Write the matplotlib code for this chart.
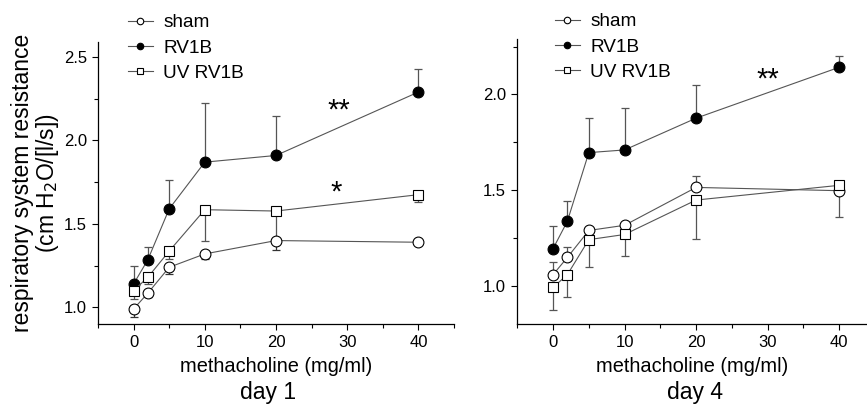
import matplotlib
matplotlib.use("Agg")
import matplotlib.pyplot as plt
from matplotlib.ticker import MultipleLocator

plt.rcParams['font.family'] = ['Liberation Sans', 'DejaVu Sans']

dose = [0, 2, 5, 10, 20, 40]

# day 1
d1_sham = [0.99, 1.085, 1.24, 1.32, 1.40, 1.39]
d1_sham_lo = [0.05, 0.025, 0.04, 0.03, 0.055, 0.0]
d1_sham_hi = [0.0, 0.0, 0.0, 0.0, 0.0, 0.0]
d1_rv = [1.14, 1.285, 1.59, 1.87, 1.91, 2.29]
d1_rv_lo = [0.0, 0.0, 0.0, 0.0, 0.0, 0.0]
d1_rv_hi = [0.105, 0.075, 0.175, 0.355, 0.235, 0.14]
d1_uv = [1.10, 1.18, 1.337, 1.585, 1.577, 1.675]
d1_uv_lo = [0.05, 0.04, 0.045, 0.185, 0.18, 0.045]
d1_uv_hi = [0.0, 0.0, 0.0, 0.0, 0.0, 0.0]

# day 4
d4_sham = [1.058, 1.148, 1.289, 1.316, 1.514, 1.497]
d4_sham_lo = [0.0, 0.0, 0.0, 0.0, 0.0, 0.14]
d4_sham_hi = [0.064, 0.052, 0.0, 0.0, 0.06, 0.0]
d4_rv = [1.194, 1.337, 1.696, 1.71, 1.876, 2.142]
d4_rv_lo = [0.0, 0.0, 0.0, 0.0, 0.0, 0.0]
d4_rv_hi = [0.117, 0.105, 0.18, 0.217, 0.174, 0.058]
d4_uv = [0.991, 1.058, 1.241, 1.268, 1.448, 1.525]
d4_uv_lo = [0.117, 0.118, 0.145, 0.114, 0.201, 0.0]
d4_uv_hi = [0.0, 0.0, 0.0, 0.0, 0.0, 0.0]

labels = ["sham", "RV1B", "UV RV1B"]

W, H = 867, 407
fig = plt.figure(figsize=(W / 100, H / 100), dpi=100)

def fx(px):
    return px / W

def fy(py):
    return 1 - py / H

ax1 = fig.add_axes([fx(98), fy(324), fx(454 - 98), (324 - 42) / H])
ax2 = fig.add_axes([fx(517.3), fy(324), fx(867 - 517.3), (324 - 39) / H])

line_c = '#555555'

def draw(ax, series):
    handles = []
    for (y, lo, hi, mk, mfc, ecol), lab in zip(series, labels):
        ax.errorbar(dose, y, yerr=[lo, hi], fmt='none', ecolor=ecol,
                    elinewidth=0.9, capsize=3, capthick=0.9, zorder=2)
        h, = ax.plot(dose, y, color=line_c, lw=0.8, marker=mk, ms=7.8,
                     mfc=mfc, mec='black', mew=0.8, zorder=3, label=lab)
        handles.append(h)
    for s in ['top', 'right']:
        ax.spines[s].set_visible(False)
    for s in ['left', 'bottom']:
        ax.spines[s].set_linewidth(0.9)
    ax.xaxis.set_major_locator(MultipleLocator(10))
    ax.xaxis.set_minor_locator(MultipleLocator(5))
    ax.yaxis.set_major_locator(MultipleLocator(0.5))
    ax.yaxis.set_minor_locator(MultipleLocator(0.25))
    ax.tick_params(which='major', direction='out', length=4, width=0.8,
                   labelsize=12, pad=4)
    ax.tick_params(which='minor', direction='out', length=3, width=0.8)
    ax.yaxis.set_major_formatter(matplotlib.ticker.FormatStrFormatter('%.1f'))
    ax.set_xlabel('methacholine (mg/ml)', fontsize=14.4, labelpad=5)
    return handles

h1 = draw(ax1, [(d1_sham, d1_sham_lo, d1_sham_hi, 'o', 'white', '#333333'),
                (d1_rv, d1_rv_lo, d1_rv_hi, 'o', 'black', '#555555'),
                (d1_uv, d1_uv_lo, d1_uv_hi, 's', 'white', '#555555')])
ax1.set_xlim(-5, 45)
ax1.set_ylim(0.9, 2.59)

h2 = draw(ax2, [(d4_sham, d4_sham_lo, d4_sham_hi, 'o', 'white', '#555555'),
                (d4_rv, d4_rv_lo, d4_rv_hi, 'o', 'black', '#555555'),
                (d4_uv, d4_uv_lo, d4_uv_hi, 's', 'white', '#555555')])
ax2.set_xlim(-5, 43.9)
ax2.set_ylim(0.8, 2.29)

ax1.set_ylabel('respiratory system resistance\n(cm H$_2$O/[l/s])', fontsize=16.5,
               linespacing=1.0, labelpad=2)

ax1.text(28.8, 2.18, '**', fontsize=21, ha='center', va='center')
ax1.text(28.5, 1.69, '*', fontsize=21, ha='center', va='center')
ax2.text(30.0, 2.08, '**', fontsize=21, ha='center', va='center')

fig.text(fx(268), fy(392), 'day 1', fontsize=16.5, ha='center', va='center')
fig.text(fx(695), fy(392), 'day 4', fontsize=16.5, ha='center', va='center')

for h, bx, ty in ((h1, 128, 14), (h2, 555, 13)):
    leg = fig.legend(handles=h, loc='upper left', bbox_to_anchor=(fx(bx), fy(ty)),
                     frameon=False, fontsize=13.7, handlelength=1.3, handletextpad=0.55,
                     labelspacing=0.42, markerscale=0.6, borderaxespad=0,
                     borderpad=0)

fig.savefig('out.png', dpi=100)
